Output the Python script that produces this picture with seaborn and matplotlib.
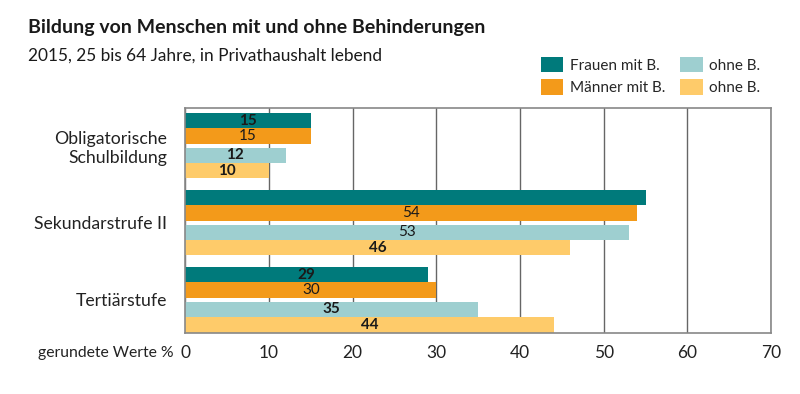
import pandas as pd
import numpy as np
import matplotlib.pyplot as plt
import seaborn as sns
from matplotlib.patches import Patch

# data
categories = ['Obligatorische\nSchulbildung', 'Sekundarstrufe II', 'Tertiärstufe']
series = ['Frauen mit B.', 'Männer mit B.', 'Frauen ohne B.', 'Männer ohne B.']
legend_labels = ['Frauen mit B.', 'Männer mit B.', 'ohne B.', 'ohne B.']
frauen_mit = [15, 55, 29]
maenner_mit = [15, 54, 30]
frauen_ohne = [12, 53, 35]
maenner_ohne = [10, 46, 44]
show_label = [[True, False, True], [True, True, True], [True, True, True], [True, True, True]]
label_bold = [[True, False, True], [False, False, False], [True, False, True], [True, True, True]]
colors = ['#007A7B', '#F39A1A', '#9ECFD0', '#FECB6A']
ticks = [0, 10, 20, 30, 40, 50, 60, 70]

values = [frauen_mit, maenner_mit, frauen_ohne, maenner_ohne]
df = pd.DataFrame({
    'Kategorie': categories * 4,
    'Serie': np.repeat(series, len(categories)),
    'Wert': np.concatenate(values),
})

sns.set_theme(style='white')
plt.rcParams['font.family'] = ['Lato', 'DejaVu Sans']

fig = plt.figure(figsize=(8, 3.94), dpi=100)
ax = fig.add_axes([0.2315, 0.155, 0.7325, 0.571])

sns.barplot(data=df, y='Kategorie', x='Wert', hue='Serie', order=categories,
            hue_order=series, palette=colors, orient='h', width=0.8,
            dodge=True, legend=False, ax=ax, saturation=1, linewidth=0)

# small gap between the "mit" and "ohne" pairs
gap = 0.025
for i, container in enumerate(ax.containers):
    shift = -gap if i < 2 else gap
    for j, bar in enumerate(container):
        bar.set_y(bar.get_y() + shift)
        if show_label[i][j]:
            v = values[i][j]
            ax.text(v / 2, bar.get_y() + bar.get_height() / 2, str(v),
                    ha='center', va='center', fontsize=11, color='#1a1a1a',
                    fontweight='bold' if label_bold[i][j] else 'normal')

ax.set_xlim(0, 70)
ax.set_ylim(2.43, -0.49)
ax.set_xticks(ticks)
ax.set_xticklabels([str(t) for t in ticks], fontsize=12.5, color='#222222')
ax.tick_params(axis='x', length=0, pad=9)
ax.tick_params(axis='y', length=0, pad=13, labelsize=12.7, labelcolor='#222222')
ax.set_xlabel('')
ax.set_ylabel('')
ax.xaxis.grid(True, color='#666666', linewidth=1)
ax.set_axisbelow(True)
for s in ax.spines.values():
    s.set_visible(True)
    s.set_color('#888888')
    s.set_linewidth(1.2)

fig.text(0.2165, 0.103, 'gerundete Werte %', ha='right', va='center',
         fontsize=11.3, color='#222222')

fig.text(0.035, 0.93, 'Bildung von Menschen mit und ohne Behinderungen',
         fontsize=14, fontweight='bold', color='#1a1a1a', va='center')
fig.text(0.035, 0.86, '2015, 25 bis 64 Jahre, in Privathaushalt lebend',
         fontsize=12.4, color='#1a1a1a', va='center')

handles = [Patch(facecolor=c, edgecolor='none') for c in colors]
fig.legend(handles, legend_labels, ncol=2, loc='upper left',
           bbox_to_anchor=(0.668, 0.872), frameon=False, fontsize=11,
           handlelength=1.5, handleheight=1.2, handletextpad=0.4,
           columnspacing=1.0, labelspacing=0.45, borderaxespad=0)

fig.savefig('out.png', dpi=100)
